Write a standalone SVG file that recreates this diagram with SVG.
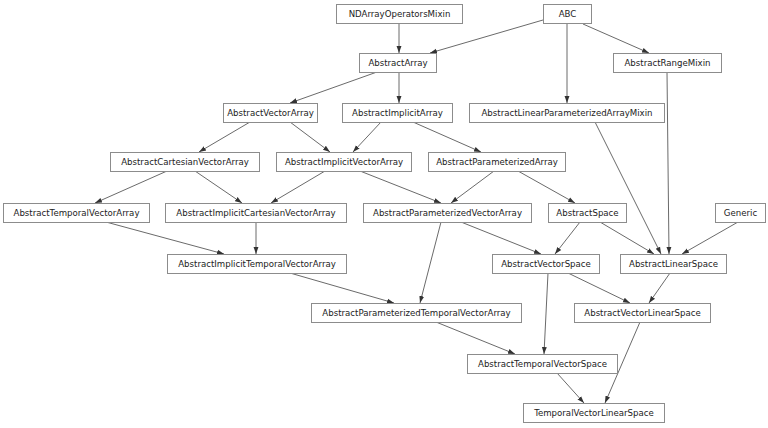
<svg xmlns="http://www.w3.org/2000/svg" width="768" height="428" viewBox="0 0 768 428">
<style>
.n rect{fill:#fff;stroke:#8c8c8c;stroke-width:1}
.n text{font-family:"DejaVu Sans",sans-serif;font-size:8.6px;fill:#222;text-anchor:middle}
#edges line{stroke:#444;stroke-width:0.8;marker-end:url(#a)}
</style>
<defs><marker id="a" viewBox="0 0 10 10" refX="10" refY="5" markerWidth="7" markerHeight="7" markerUnits="userSpaceOnUse" orient="auto"><path d="M0,1.5L10,5L0,8.5z" fill="#333"/></marker></defs>
<rect width="768" height="428" fill="#fff"/>
<g id="edges">
<line x1="399" y1="24" x2="399" y2="53"/>
<line x1="543" y1="20" x2="430" y2="53"/>
<line x1="583" y1="24" x2="649" y2="53"/>
<line x1="567" y1="24" x2="567" y2="103"/>
<line x1="377" y1="72" x2="290" y2="103"/>
<line x1="399" y1="72" x2="399" y2="103"/>
<line x1="250" y1="122" x2="199" y2="152"/>
<line x1="290" y1="122" x2="330" y2="152"/>
<line x1="381" y1="122" x2="353" y2="152"/>
<line x1="413" y1="122" x2="481" y2="152"/>
<line x1="167" y1="171" x2="95" y2="203"/>
<line x1="195" y1="171" x2="242" y2="203"/>
<line x1="325" y1="171" x2="271" y2="203"/>
<line x1="360" y1="171" x2="441" y2="203"/>
<line x1="494" y1="171" x2="451" y2="203"/>
<line x1="518" y1="171" x2="575" y2="203"/>
<line x1="106" y1="222" x2="224" y2="254"/>
<line x1="256" y1="222" x2="256" y2="254"/>
<line x1="441" y1="222" x2="420" y2="303"/>
<line x1="461" y1="222" x2="541" y2="254"/>
<line x1="580" y1="222" x2="555" y2="254"/>
<line x1="600" y1="222" x2="654" y2="254"/>
<line x1="738" y1="222" x2="682" y2="254"/>
<line x1="595" y1="122" x2="661" y2="254"/>
<line x1="667" y1="72" x2="669" y2="254"/>
<line x1="290" y1="273" x2="394" y2="303"/>
<line x1="548" y1="273" x2="544" y2="354"/>
<line x1="568" y1="273" x2="630" y2="303"/>
<line x1="670" y1="273" x2="649" y2="303"/>
<line x1="436" y1="322" x2="515" y2="354"/>
<line x1="640" y1="322" x2="605" y2="403"/>
<line x1="557" y1="373" x2="584" y2="403"/>
</g>
<g id="NDArrayOperatorsMixin" class="n"><rect x="336.5" y="4.5" width="126" height="19"/><text x="399.5" y="17">NDArrayOperatorsMixin</text></g>
<g id="ABC" class="n"><rect x="543.5" y="4.5" width="48" height="19"/><text x="567.5" y="17">ABC</text></g>
<g id="AbstractArray" class="n"><rect x="359.5" y="53.5" width="77" height="19"/><text x="398" y="66">AbstractArray</text></g>
<g id="AbstractRangeMixin" class="n"><rect x="613.5" y="53.5" width="108" height="19"/><text x="667.5" y="66">AbstractRangeMixin</text></g>
<g id="AbstractVectorArray" class="n"><rect x="223.5" y="103.5" width="94" height="19"/><text x="270.5" y="116">AbstractVectorArray</text></g>
<g id="AbstractImplicitArray" class="n"><rect x="342.5" y="103.5" width="110" height="19"/><text x="397.5" y="116">AbstractImplicitArray</text></g>
<g id="AbstractLinearParameterizedArrayMixin" class="n"><rect x="469.5" y="103.5" width="195" height="19"/><text x="567" y="116">AbstractLinearParameterizedArrayMixin</text></g>
<g id="AbstractCartesianVectorArray" class="n"><rect x="110.5" y="152.5" width="149" height="19"/><text x="185" y="165">AbstractCartesianVectorArray</text></g>
<g id="AbstractImplicitVectorArray" class="n"><rect x="276.5" y="152.5" width="135" height="19"/><text x="344" y="165">AbstractImplicitVectorArray</text></g>
<g id="AbstractParameterizedArray" class="n"><rect x="428.5" y="152.5" width="137" height="19"/><text x="497" y="165">AbstractParameterizedArray</text></g>
<g id="AbstractTemporalVectorArray" class="n"><rect x="3.5" y="203.5" width="146" height="19"/><text x="76.5" y="216">AbstractTemporalVectorArray</text></g>
<g id="AbstractImplicitCartesianVectorArray" class="n"><rect x="165.5" y="203.5" width="181" height="19"/><text x="256" y="216">AbstractImplicitCartesianVectorArray</text></g>
<g id="AbstractParameterizedVectorArray" class="n"><rect x="363.5" y="203.5" width="168" height="19"/><text x="447.5" y="216">AbstractParameterizedVectorArray</text></g>
<g id="AbstractSpace" class="n"><rect x="548.5" y="203.5" width="78" height="19"/><text x="587.5" y="216">AbstractSpace</text></g>
<g id="Generic" class="n"><rect x="715.5" y="203.5" width="50" height="19"/><text x="740.5" y="216">Generic</text></g>
<g id="AbstractImplicitTemporalVectorArray" class="n"><rect x="167.5" y="254.5" width="179" height="19"/><text x="257" y="267">AbstractImplicitTemporalVectorArray</text></g>
<g id="AbstractVectorSpace" class="n"><rect x="492.5" y="254.5" width="107" height="19"/><text x="546" y="267">AbstractVectorSpace</text></g>
<g id="AbstractLinearSpace" class="n"><rect x="620.5" y="254.5" width="106" height="19"/><text x="673.5" y="267">AbstractLinearSpace</text></g>
<g id="AbstractParameterizedTemporalVectorArray" class="n"><rect x="311.5" y="303.5" width="210" height="19"/><text x="416.5" y="316">AbstractParameterizedTemporalVectorArray</text></g>
<g id="AbstractVectorLinearSpace" class="n"><rect x="574.5" y="303.5" width="136" height="19"/><text x="642.5" y="316">AbstractVectorLinearSpace</text></g>
<g id="AbstractTemporalVectorSpace" class="n"><rect x="467.5" y="354.5" width="150" height="19"/><text x="542.5" y="367">AbstractTemporalVectorSpace</text></g>
<g id="TemporalVectorLinearSpace" class="n"><rect x="523.5" y="403.5" width="141" height="19"/><text x="594" y="416">TemporalVectorLinearSpace</text></g>
</svg>
